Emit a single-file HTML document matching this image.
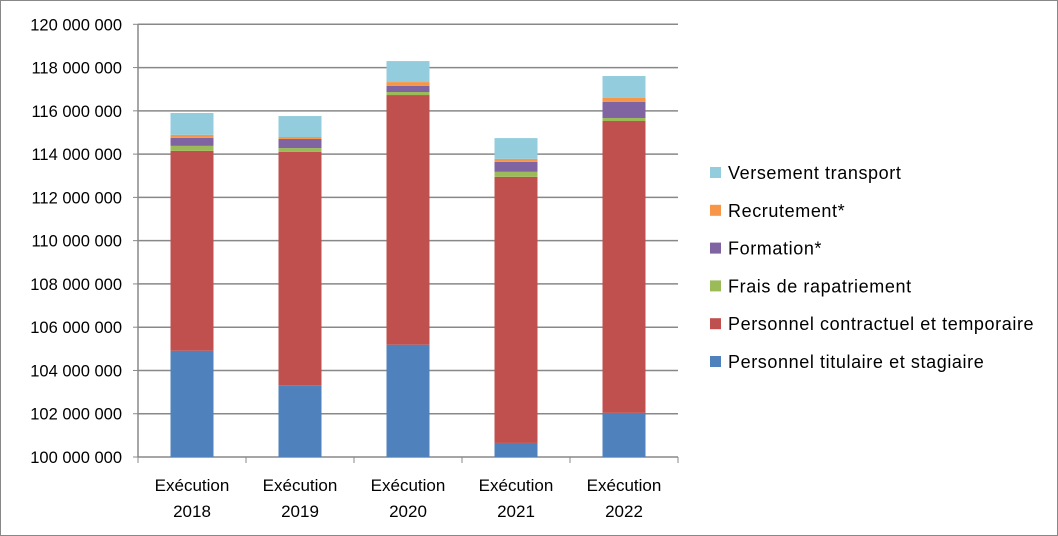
<!DOCTYPE html>
<html><head><meta charset="utf-8"><style>
body{margin:0;background:#fff}
svg{display:block;font-family:"Liberation Sans",sans-serif}
</style></head><body>
<svg id="c" width="1058" height="536">
<rect x="0.5" y="0.5" width="1057" height="535" fill="#fff" stroke="#888"/>
<g id="grid"></g><g id="bars"></g><g id="axes"></g><g id="legend"></g>
</svg>
<script>
const categories=["Exécution 2018","Exécution 2019","Exécution 2020","Exécution 2021","Exécution 2022"];
const seriesNames=["Personnel titulaire et stagiaire","Personnel contractuel et temporaire","Frais de rapatriement","Formation*","Recrutement*","Versement transport"];
const titulaire=[104.91,103.32,105.19,100.65,102.04];
const contractuel=[9.24,10.78,11.54,12.30,13.49];
const rapatriement=[0.23,0.18,0.14,0.23,0.14];
const formation=[0.37,0.42,0.28,0.46,0.74];
const recrutement=[0.14,0.09,0.18,0.14,0.20];
const transport=[1.01,0.97,0.97,0.96,1.00];
const yTicks=[100,102,104,106,108,110,112,114,116,118,120];
const colors=["#4f81bd","#c0504d","#9bbb59","#8064a2","#f79646","#93cddd"];
const NS="http://www.w3.org/2000/svg";
const X0=138,X1=678,Y0=457,Y1=24.3,YMIN=100,YMAX=120;
const y=v=>Y0-(v-YMIN)/(YMAX-YMIN)*(Y0-Y1);
const catW=(X1-X0)/categories.length;
const xc=i=>X0+catW*(i+0.5);
function mk(t,a,p){const e=document.createElementNS(NS,t);for(const k in a)e.setAttribute(k,a[k]);p.appendChild(e);return e;}
const grid=document.getElementById('grid'),axes=document.getElementById('axes'),bars=document.getElementById('bars'),leg=document.getElementById('legend');
yTicks.forEach(t=>{
 const l=mk('line',{x1:X0,x2:X1,y1:y(t),y2:y(t),stroke:'#888','stroke-width':1.5},grid);
 
 
 const tk=mk('line',{x1:X0-5,x2:X0,y1:y(t),y2:y(t),stroke:'#888'},axes);
 
 
 const tx=mk('text',{x:122,y:y(t)+6,'text-anchor':'end','font-size':16.5,fill:'#000'},axes);
 tx.textContent=t.toFixed(0)+" 000 000";
 
 
});
const ax=mk('line',{x1:X0,x2:X0,y1:Y1,y2:Y0,stroke:'#888','stroke-width':1.5},axes);


for(let i=0;i<=categories.length;i++){
 const tk=mk('line',{x1:X0+catW*i,x2:X0+catW*i,y1:Y0,y2:Y0+6,stroke:'#888'},axes);
 
 
}
const series=[titulaire,contractuel,rapatriement,formation,recrutement,transport];
const bw=43;
categories.forEach((c,i)=>{
 let base=YMIN;
 series.forEach((s,k)=>{
  const top=(k===0)?s[i]:base+s[i];
  const r=mk('rect',{x:xc(i)-bw/2,y:y(top),width:bw,height:y(k===0?YMIN:base)-y(top),fill:colors[k]},bars);
  
  
  base=top;
 });
 const parts=c.split(' ');
 parts.forEach((p,j)=>{
  const t=mk('text',{x:xc(i),y:491+j*26,'text-anchor':'middle','font-size':17,fill:'#000'},axes);
  t.textContent=p;
  
  
 });
});
for(let k=5;k>=0;k--){
 const row=5-k, ly=173+row*37.8;
 const sq=mk('rect',{x:710,y:ly-6,width:11,height:11,fill:colors[k]},leg);
 
 
 const t=mk('text',{x:728,y:ly+6,'font-size':18,'letter-spacing':0.6,fill:'#000'},leg);
 t.textContent=seriesNames[k];
 
 
}
</script>
</body></html>
